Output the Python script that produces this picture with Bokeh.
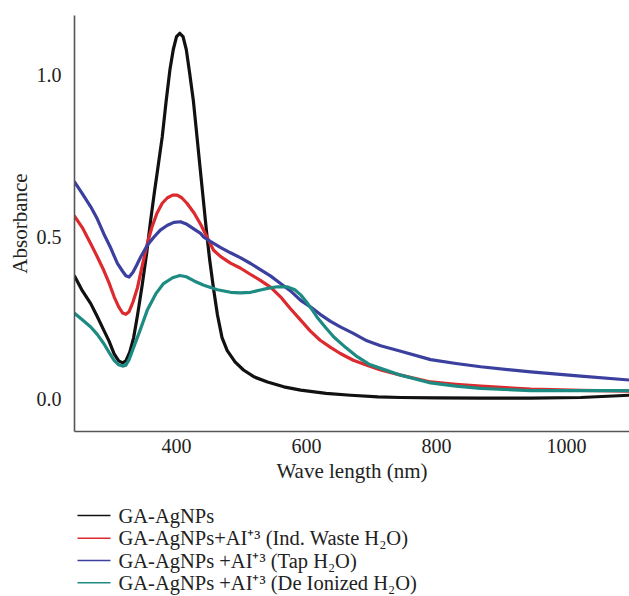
from bokeh.plotting import figure
from bokeh.layouts import column
from bokeh.models import Range1d, FixedTicker, PrintfTickFormatter
from bokeh.core.properties import value
from bokeh.embed import file_html
from bokeh.resources import INLINE

# Wavelength (nm) and absorbance for each series
black_x = [243, 255, 268, 278, 288, 296, 304, 311, 317, 322, 328, 334, 340, 347, 354, 360, 366, 371, 378, 384,
           390, 395, 400, 405, 410, 415, 420, 426, 431, 436, 441, 446, 451, 457, 463, 470, 478, 490, 503, 520,
           540, 565, 591, 630, 668, 710, 745, 800, 870, 945, 1022, 1097]
black_y = [0.38, 0.335, 0.295, 0.255, 0.213, 0.18, 0.14, 0.118, 0.112, 0.118, 0.145, 0.19, 0.26, 0.35, 0.45, 0.55,
           0.64, 0.71, 0.81, 0.92, 1.02, 1.08, 1.12, 1.13, 1.12, 1.08, 1.01, 0.92, 0.82, 0.72, 0.62, 0.52, 0.43,
           0.34, 0.26, 0.19, 0.15, 0.115, 0.09, 0.068, 0.053, 0.038, 0.028, 0.018, 0.012, 0.007, 0.005, 0.004,
           0.003, 0.003, 0.005, 0.012]

red_x = [243, 255, 268, 278, 288, 296, 304, 311, 317, 322, 327, 333, 340, 347, 355, 362, 370, 378, 386, 394, 401,
         408, 416, 427, 437, 447, 457, 468, 483, 498, 514, 529, 545, 560, 575, 591, 606, 621, 637, 652, 672, 693,
         714, 745, 791, 830, 868, 945, 1022, 1097]
red_y = [0.565, 0.53, 0.48, 0.44, 0.398, 0.36, 0.316, 0.285, 0.266, 0.262, 0.27, 0.30, 0.345, 0.41, 0.48, 0.53,
         0.575, 0.605, 0.622, 0.63, 0.63, 0.622, 0.605, 0.575, 0.54, 0.50, 0.46, 0.44, 0.42, 0.405, 0.385, 0.367,
         0.345, 0.316, 0.28, 0.244, 0.21, 0.182, 0.16, 0.141, 0.12, 0.105, 0.09, 0.074, 0.053, 0.046, 0.04,
         0.031, 0.027, 0.025]

blue_x = [243, 255, 268, 278, 288, 298, 309, 317, 322, 327, 333, 339, 345, 355, 365, 375, 386, 396, 406, 416, 427,
          437, 442, 452, 468, 483, 498, 514, 529, 545, 560, 575, 591, 606, 621, 637, 652, 672, 693, 714, 745, 791,
          830, 868, 945, 1022, 1097]
blue_y = [0.671, 0.635, 0.594, 0.557, 0.511, 0.47, 0.419, 0.395, 0.381, 0.377, 0.392, 0.415, 0.44, 0.475, 0.50,
          0.522, 0.537, 0.546, 0.548, 0.54, 0.525, 0.512, 0.50, 0.487, 0.468, 0.452, 0.437, 0.419, 0.40, 0.38,
          0.357, 0.335, 0.305, 0.285, 0.262, 0.24, 0.223, 0.203, 0.18, 0.165, 0.148, 0.122, 0.11, 0.10, 0.084,
          0.071, 0.059]

teal_x = [243, 255, 268, 278, 288, 296, 304, 311, 317, 322, 327, 334, 344, 355, 368, 380, 394, 405, 415, 427, 442,
          463, 483, 498, 514, 529, 540, 555, 570, 582, 591, 600, 608, 616, 629, 642, 660, 678, 696, 714, 745, 791,
          830, 868, 945, 1022, 1097]
teal_y = [0.265, 0.245, 0.223, 0.2, 0.172, 0.145, 0.12, 0.106, 0.102, 0.105, 0.122, 0.16, 0.213, 0.275, 0.325,
          0.357, 0.375, 0.382, 0.378, 0.365, 0.352, 0.338, 0.33, 0.328, 0.33, 0.337, 0.342, 0.347, 0.347, 0.338,
          0.322, 0.3, 0.278, 0.254, 0.222, 0.192, 0.16, 0.131, 0.108, 0.095, 0.074, 0.05, 0.04, 0.033, 0.026,
          0.026, 0.026]

labels = [
    "GA-AgNPs",
    "GA-AgNPs+AI\u207a\u00b3 (Ind. Waste H\u2082O)",
    "GA-AgNPs +AI\u207a\u00b3 (Tap H\u2082O)",
    "GA-AgNPs +AI\u207a\u00b3 (De Ionized H\u2082O)",
]
colors = ["#111111", "#dc2a2e", "#3b3f9e", "#1e8b83"]
x_ticks = [400, 600, 800, 1000]
y_ticks = [0.0, 0.5, 1.0]

FONT = "Liberation Serif"

p = figure(width=629, height=487, output_backend="svg", toolbar_location=None,
           x_range=Range1d(243, 1097), y_range=Range1d(-0.1, 1.185),
           min_border_left=74, min_border_right=0, min_border_top=15, min_border_bottom=56)
p.outline_line_color = None
p.grid.visible = False
p.background_fill_color = "white"
p.border_fill_color = "white"

series = [(black_x, black_y), (red_x, red_y), (blue_x, blue_y), (teal_x, teal_y)]
for (xs, ys), c in zip(series, colors):
    p.line(xs, ys, line_color=c, line_width=3.2, line_join="round", line_cap="round")

for ax in (p.xaxis[0], p.yaxis[0]):
    ax.axis_line_color = "#555555"
    ax.axis_line_width = 1.6
    ax.major_tick_line_color = None
    ax.minor_tick_line_color = None
    ax.major_label_text_font = FONT
    ax.major_label_text_font_size = "20px"
    ax.major_label_text_color = "#222222"
    ax.axis_label_text_font = FONT
    ax.axis_label_text_font_size = "21px"
    ax.axis_label_text_font_style = "normal"
    ax.axis_label_text_color = "#222222"

p.xaxis.ticker = FixedTicker(ticks=x_ticks)
p.yaxis.ticker = FixedTicker(ticks=y_ticks)
p.yaxis.formatter = PrintfTickFormatter(format="%.1f")
p.xaxis.axis_label = "Wave length (nm)"
p.yaxis.axis_label = "Absorbance"
p.xaxis.major_label_standoff = 1
p.yaxis.major_label_standoff = 7
p.xaxis.axis_label_standoff = 3
p.yaxis.axis_label_standoff = 2

# Legend panel below the chart (screen-like coordinates: x from frame left, y from panel top)
lg = figure(width=629, height=109, output_backend="svg", toolbar_location=None,
            x_range=Range1d(0, 555), y_range=Range1d(109, 0),
            min_border_left=74, min_border_right=0, min_border_top=0, min_border_bottom=0)
lg.axis.visible = False
lg.grid.visible = False
lg.outline_line_color = None
lg.background_fill_color = "white"
lg.border_fill_color = "white"

row_y = [28, 50.7, 73, 95.3]
lg.segment(x0=[3] * 4, x1=[36] * 4, y0=row_y, y1=row_y, line_color=colors, line_width=1.5)
lg.text(x=[44] * 4, y=row_y, text=labels, text_font=value(FONT), text_font_size="20.5px",
        text_color="#222222", text_baseline="middle", text_align="left")

open("out.html", "w").write(file_html(column(p, lg, spacing=0), INLINE))
